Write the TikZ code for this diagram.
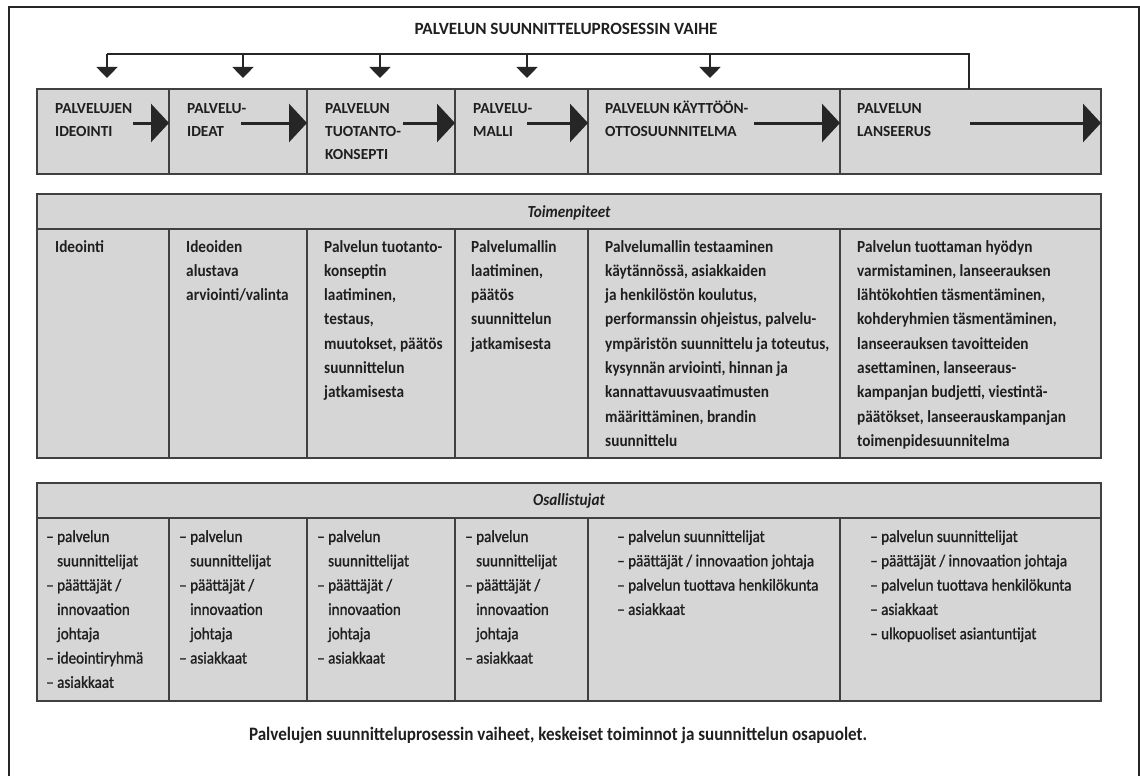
\documentclass[tikz,border=0pt]{standalone}
\usepackage{fontspec}
\setmainfont{Carlito}
\newfontfamily\narrowfont[FakeStretch=0.9]{Carlito}
\newfontfamily\rolefont[FakeStretch=0.9, FakeBold=1.2]{Carlito}
\usetikzlibrary{arrows.meta}
\newcommand{\contind}{\phantom{–\ }}
\newlength{\natwd}
% font size (in pt) that sets #4 in font #2 to width #3 pt; stored in macro #1
\newcommand{\fitsize}[4]{%
  \settowidth{\natwd}{\fontsize{10}{12}\selectfont #2#4}%
  \pgfmathsetmacro{#1}{10*#3/\natwd}}
\begin{document}
\fitsize{\titlesize}{\bfseries}{303}{PALVELUN SUUNNITTELUPROSESSIN VAIHE}%
\fitsize{\stagesize}{\bfseries}{77}{PALVELUJEN}%
\fitsize{\tasksize}{\narrowfont\bfseries}{224}{ympäristön suunnittelu ja toteutus,}%
\fitsize{\rolesize}{\rolefont}{197}{– päättäjät / innovaation johtaja}%
\fitsize{\headsize}{\narrowfont\bfseries\itshape}{83}{Toimenpiteet}%
\fitsize{\captsize}{\narrowfont\bfseries}{618}{Palvelujen suunnitteluprosessin vaiheet, keskeiset toiminnot ja suunnittelun osapuolet.}%
\begin{tikzpicture}[x=1pt, y=-1pt,
  framepath/.style={line width=2pt, draw=black!85},
  cellbox/.style={draw=black!75, line width=1.2pt, fill=black!16, inner sep=0pt, outer sep=0pt, anchor=north west},
  stagetext/.style={anchor=base west, inner sep=0pt, text=black!88, font=\fontsize{\stagesize}{23}\selectfont\bfseries},
  tasktext/.style={anchor=base west, inner sep=0pt, text=black!88, font=\narrowfont\fontsize{\tasksize}{24.3}\selectfont\bfseries},
  roletext/.style={anchor=base west, inner sep=0pt, text=black!88, font=\rolefont\fontsize{\rolesize}{24.3}\selectfont},
  headtext/.style={anchor=base, inner sep=0pt, text=black!88, font=\narrowfont\fontsize{\headsize}{18}\selectfont\bfseries\itshape},
  busline/.style={line width=1.4pt, draw=black!85},
  droparrow/.style={busline, -{Triangle[width=21pt,length=11pt]}, shorten >=11pt},
  flowarrow/.style={line width=3pt, draw=black!85, -{Triangle[width=38pt,length=18pt]}},
]
\useasboundingbox (0,0) rectangle (1140,776);
\fill[white] (0,0) rectangle (1140,776);

% outer frame (open at the bottom)
\draw[framepath] (9,776) -- (9,7) -- (1139,7) -- (1139,776);

% title
\node[anchor=base, inner sep=0pt, text=black!88, font=\fontsize{\titlesize}{20}\selectfont\bfseries] (title) at (566,35) {PALVELUN SUUNNITTELUPROSESSIN VAIHE};

% stage boxes
\node[cellbox, minimum width=132pt, minimum height=85pt] (p1) at (37,89) {};
\node[cellbox, minimum width=138pt, minimum height=85pt] (p2) at (169,89) {};
\node[cellbox, minimum width=148pt, minimum height=85pt] (p3) at (307,89) {};
\node[cellbox, minimum width=133pt, minimum height=85pt] (p4) at (455,89) {};
\node[cellbox, minimum width=252pt, minimum height=85pt] (p5) at (588,89) {};
\node[cellbox, minimum width=261pt, minimum height=85pt] (p6) at (840,89) {};

\node[stagetext] (p1t) at ([xshift=18pt,yshift=-24pt]p1.north west) {\parbox[t]{120pt}{\raggedright PALVELUJEN\\IDEOINTI}};
\node[stagetext] (p2t) at ([xshift=18pt,yshift=-24pt]p2.north west) {\parbox[t]{120pt}{\raggedright PALVELU-\\IDEAT}};
\node[stagetext] (p3t) at ([xshift=18pt,yshift=-24pt]p3.north west) {\parbox[t]{120pt}{\raggedright PALVELUN\\TUOTANTO-\\KONSEPTI}};
\node[stagetext] (p4t) at ([xshift=18pt,yshift=-24pt]p4.north west) {\parbox[t]{120pt}{\raggedright PALVELU-\\MALLI}};
\node[stagetext] (p5t) at ([xshift=17pt,yshift=-24pt]p5.north west) {\parbox[t]{200pt}{\raggedright PALVELUN KÄYTTÖÖN-\\OTTOSUUNNITELMA}};
\node[stagetext] (p6t) at ([xshift=17pt,yshift=-24pt]p6.north west) {\parbox[t]{200pt}{\raggedright PALVELUN\\LANSEERUS}};

% arrows between stages
\draw[flowarrow] ([xshift=-36pt,yshift=8.5pt]p1.east) -- ([yshift=8.5pt]p1.east);
\draw[flowarrow] ([xshift=-66pt,yshift=8.5pt]p2.east) -- ([yshift=8.5pt]p2.east);
\draw[flowarrow] ([xshift=-52pt,yshift=8.5pt]p3.east) -- ([yshift=8.5pt]p3.east);
\draw[flowarrow] ([xshift=-61pt,yshift=8.5pt]p4.east) -- ([yshift=8.5pt]p4.east);
\draw[flowarrow] ([xshift=-86pt,yshift=8.5pt]p5.east) -- ([yshift=8.5pt]p5.east);
\draw[flowarrow] ([xshift=-131pt,yshift=8.5pt]p6.east) -- ([yshift=8.5pt]p6.east);

% feedback bus above the stages
\coordinate (d1) at (107,54);
\coordinate (d2) at (243,54);
\coordinate (d3) at (380,54);
\coordinate (d4) at (527,54);
\coordinate (d5) at (710,54);
\coordinate (busR) at (969,54);
\draw[busline] (d1) -- (busR) -- (busR |- p6.north);
\draw[droparrow] (d1) -- (d1 |- p1.north);
\draw[droparrow] (d2) -- (d2 |- p2.north);
\draw[droparrow] (d3) -- (d3 |- p3.north);
\draw[droparrow] (d4) -- (d4 |- p4.north);
\draw[droparrow] (d5) -- (d5 |- p5.north);

% Toimenpiteet table
\node[cellbox, minimum width=1064pt, minimum height=35pt] (th) at (37,194) {};
\node[headtext] (tht) at ([yshift=-23pt]th.north) {Toimenpiteet};
\node[cellbox, minimum width=132pt, minimum height=229pt] (t1) at (37,229) {};
\node[cellbox, minimum width=138pt, minimum height=229pt] (t2) at (169,229) {};
\node[cellbox, minimum width=148pt, minimum height=229pt] (t3) at (307,229) {};
\node[cellbox, minimum width=133pt, minimum height=229pt] (t4) at (455,229) {};
\node[cellbox, minimum width=252pt, minimum height=229pt] (t5) at (588,229) {};
\node[cellbox, minimum width=261pt, minimum height=229pt] (t6) at (840,229) {};

\node[tasktext] (t1t) at ([xshift=18pt,yshift=-23pt]t1.north west) {\parbox[t]{120pt}{\raggedright Ideointi}};
\node[tasktext] (t2t) at ([xshift=17pt,yshift=-23pt]t2.north west) {\parbox[t]{130pt}{\raggedright Ideoiden\\alustava\\arviointi/valinta}};
\node[tasktext] (t3t) at ([xshift=17pt,yshift=-23pt]t3.north west) {\parbox[t]{140pt}{\raggedright Palvelun tuotanto-\\konseptin\\laatiminen,\\testaus,\\muutokset, päätös\\suunnittelun\\jatkamisesta}};
\node[tasktext] (t4t) at ([xshift=16pt,yshift=-23pt]t4.north west) {\parbox[t]{130pt}{\raggedright Palvelumallin\\laatiminen,\\päätös\\suunnittelun\\jatkamisesta}};
\node[tasktext] (t5t) at ([xshift=17pt,yshift=-23pt]t5.north west) {\parbox[t]{250pt}{\raggedright Palvelumallin testaaminen\\käytännössä, asiakkaiden\\ja henkilöstön koulutus,\\performanssin ohjeistus, palvelu-\\ympäristön suunnittelu ja toteutus,\\kysynnän arviointi, hinnan ja\\kannattavuusvaatimusten\\määrittäminen, brandin\\suunnittelu}};
\node[tasktext] (t6t) at ([xshift=17pt,yshift=-23pt]t6.north west) {\parbox[t]{250pt}{\raggedright Palvelun tuottaman hyödyn\\varmistaminen, lanseerauksen\\lähtökohtien täsmentäminen,\\kohderyhmien täsmentäminen,\\lanseerauksen tavoitteiden\\asettaminen, lanseeraus-\\kampanjan budjetti, viestintä-\\päätökset, lanseerauskampanjan\\toimenpidesuunnitelma}};

% Osallistujat table
\node[cellbox, minimum width=1064pt, minimum height=35pt] (oh) at (37,483) {};
\node[headtext] (oht) at ([yshift=-22pt]oh.north) {Osallistujat};
\node[cellbox, minimum width=132pt, minimum height=183pt] (o1) at (37,518) {};
\node[cellbox, minimum width=138pt, minimum height=183pt] (o2) at (169,518) {};
\node[cellbox, minimum width=148pt, minimum height=183pt] (o3) at (307,518) {};
\node[cellbox, minimum width=133pt, minimum height=183pt] (o4) at (455,518) {};
\node[cellbox, minimum width=252pt, minimum height=183pt] (o5) at (588,518) {};
\node[cellbox, minimum width=261pt, minimum height=183pt] (o6) at (840,518) {};

\node[roletext] (o1t) at ([xshift=9pt,yshift=-24pt]o1.north west) {\parbox[t]{130pt}{\raggedright – palvelun\\\contind suunnittelijat\\– päättäjät /\\\contind innovaation\\\contind johtaja\\– ideointiryhmä\\– asiakkaat}};
\node[roletext] (o2t) at ([xshift=10pt,yshift=-24pt]o2.north west) {\parbox[t]{130pt}{\raggedright – palvelun\\\contind suunnittelijat\\– päättäjät /\\\contind innovaation\\\contind johtaja\\– asiakkaat}};
\node[roletext] (o3t) at ([xshift=10pt,yshift=-24pt]o3.north west) {\parbox[t]{130pt}{\raggedright – palvelun\\\contind suunnittelijat\\– päättäjät /\\\contind innovaation\\\contind johtaja\\– asiakkaat}};
\node[roletext] (o4t) at ([xshift=10pt,yshift=-24pt]o4.north west) {\parbox[t]{130pt}{\raggedright – palvelun\\\contind suunnittelijat\\– päättäjät /\\\contind innovaation\\\contind johtaja\\– asiakkaat}};
\node[roletext] (o5t) at ([xshift=29pt,yshift=-24pt]o5.north west) {\parbox[t]{230pt}{\raggedright – palvelun suunnittelijat\\– päättäjät / innovaation johtaja\\– palvelun tuottava henkilökunta\\– asiakkaat}};
\node[roletext] (o6t) at ([xshift=30pt,yshift=-24pt]o6.north west) {\parbox[t]{230pt}{\raggedright – palvelun suunnittelijat\\– päättäjät / innovaation johtaja\\– palvelun tuottava henkilökunta\\– asiakkaat\\– ulkopuoliset asiantuntijat}};

% caption
\node[anchor=base, inner sep=0pt, text=black!88, font=\narrowfont\fontsize{\captsize}{18}\selectfont\bfseries] (caption) at (558,740) {Palvelujen suunnitteluprosessin vaiheet, keskeiset toiminnot ja suunnittelun osapuolet.};
\end{tikzpicture}
\end{document}
